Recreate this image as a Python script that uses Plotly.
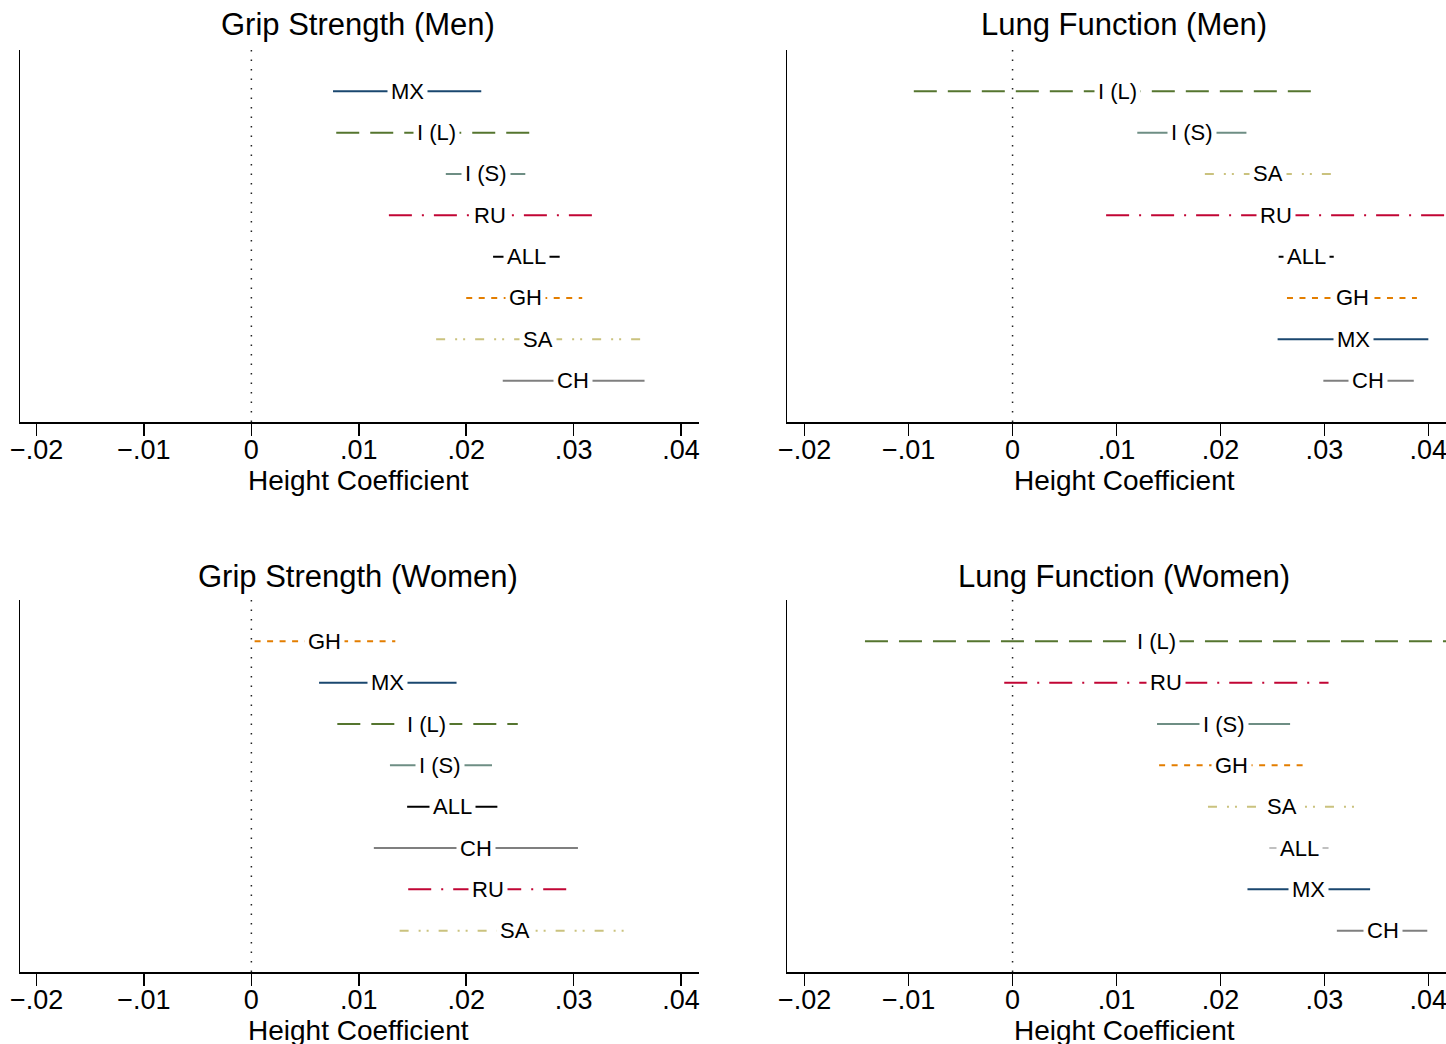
import plotly.graph_objects as go

W, H = 1446, 1044
OX, OY = 0, 0  # body margin removed below, so figure starts at page origin
FONT = "Liberation Sans, Arial, sans-serif"

# ---------------- data ----------------
rows = [1, 2, 3, 4, 5, 6, 7, 8]

tick_vals = [-0.02, -0.01, 0, 0.01, 0.02, 0.03, 0.04]
tick_text = ["\u2212.02", "\u2212.01", "0", ".01", ".02", ".03", ".04"]

# Grip Strength (Men)
gm_labels = ["MX", "I (L)", "I (S)", "RU", "ALL", "GH", "SA", "CH"]
gm_est = [0.0145, 0.0172, 0.0218, 0.0222, 0.0256, 0.0255, 0.0267, 0.0299]
gm_lo = [0.0076, 0.0079, 0.0181, 0.0128, 0.0225, 0.0200, 0.0172, 0.0234]
gm_hi = [0.0214, 0.0262, 0.0255, 0.0317, 0.0287, 0.0308, 0.0363, 0.0366]

# Lung Function (Men)
lm_labels = ["I (L)", "I (S)", "SA", "RU", "ALL", "GH", "MX", "CH"]
lm_est = [0.0101, 0.0173, 0.0246, 0.0253, 0.0283, 0.0327, 0.0328, 0.0342]
lm_lo = [-0.0095, 0.0120, 0.0185, 0.0090, 0.0256, 0.0264, 0.0255, 0.0299]
lm_hi = [0.0294, 0.0225, 0.0307, 0.0418, 0.0309, 0.0389, 0.0400, 0.0386]

# Grip Strength (Women)
gw_labels = ["GH", "MX", "I (L)", "I (S)", "ALL", "CH", "RU", "SA"]
gw_est = [0.0068, 0.0127, 0.0163, 0.0176, 0.0187, 0.0209, 0.0220, 0.0245]
gw_lo = [0.0003, 0.0063, 0.0080, 0.0129, 0.0145, 0.0114, 0.0146, 0.0138]
gw_hi = [0.0134, 0.0191, 0.0248, 0.0224, 0.0229, 0.0304, 0.0295, 0.0352]

# Lung Function (Women)
lw_labels = ["I (L)", "RU", "I (S)", "GH", "SA", "ALL", "MX", "CH"]
lw_est = [0.0138, 0.0148, 0.0203, 0.0211, 0.0259, 0.0276, 0.0285, 0.0356]
lw_lo = [-0.0142, -0.0008, 0.0139, 0.0141, 0.0188, 0.0247, 0.0226, 0.0312]
lw_hi = [0.0418, 0.0304, 0.0267, 0.0280, 0.0330, 0.0304, 0.0344, 0.0399]

# ---------------- styles ----------------
styles = {
    "MX": dict(color="#1a476f", dash="solid"),
    "I (L)": dict(color="#55752f", dash="23px,11px"),
    "I (S)": dict(color="#6e8e84", dash="solid"),
    "RU": dict(color="#c10534", dash="23px,10px,2px,10px"),
    "ALL": dict(color="#000000", dash="solid"),
    "GH": dict(color="#e37e00", dash="6px,6.5px"),
    "SA": dict(color="#cac27e", dash="9px,10px,2px,6px,2px,10px"),
    "CH": dict(color="#7f7f7f", dash="solid"),
}

def px_x(p):
    return (p - OX) / W

def px_y(p):
    return 1 - (p - OY) / H

panels = [
    dict(title="Grip Strength (Men)", labels=gm_labels, est=gm_est, lo=gm_lo, hi=gm_hi,
         xd=[px_x(20), px_x(699)], yd=[px_y(422), px_y(50)], rng=[-0.02154, 0.04167],
         tx=358, ty=25, ax_y=480, override={}),
    dict(title="Lung Function (Men)", labels=lm_labels, est=lm_est, lo=lm_lo, hi=lm_hi,
         xd=[px_x(787), px_x(1446)], yd=[px_y(422), px_y(50)], rng=[-0.0217, 0.0417],
         tx=1124, ty=25, ax_y=480, override={}),
    dict(title="Grip Strength (Women)", labels=gw_labels, est=gw_est, lo=gw_lo, hi=gw_hi,
         xd=[px_x(20), px_x(699)], yd=[px_y(972), px_y(600)], rng=[-0.02154, 0.04167],
         tx=358, ty=576, ax_y=1030, override={}),
    dict(title="Lung Function (Women)", labels=lw_labels, est=lw_est, lo=lw_lo, hi=lw_hi,
         xd=[px_x(787), px_x(1446)], yd=[px_y(972), px_y(600)], rng=[-0.0217, 0.0417],
         tx=1124, ty=576, ax_y=1030, override={"ALL": "#c0c0c0"}),
]

fig = go.Figure()
annotations = []
shapes = []
layout = {}

for i, p in enumerate(panels):
    n = "" if i == 0 else str(i + 1)
    xa, ya = "x" + n, "y" + n
    for lab, e, lo, hi, r in zip(p["labels"], p["est"], p["lo"], p["hi"], rows):
        st = styles[lab]
        col = p["override"].get(lab, st["color"])
        fig.add_trace(go.Scatter(
            x=[lo, hi], y=[r, r], mode="lines", xaxis=xa, yaxis=ya,
            line=dict(color=col, width=2, dash=st["dash"]),
            hoverinfo="skip", showlegend=False))
        annotations.append(dict(
            x=e, y=r, xref=xa, yref=ya, text=lab, showarrow=False,
            bgcolor="white", borderpad=3,
            font=dict(family=FONT, size=22, color="black"),
            xanchor="center", yanchor="middle"))
    shapes.append(dict(type="line", xref=xa, yref=ya, x0=0, x1=0, y0=0, y1=9,
                       line=dict(color="#222222", width=1.5, dash="1.5px,8px"),
                       layer="below"))
    layout["xaxis" + n] = dict(
        domain=p["xd"], range=p["rng"], anchor=ya, automargin=False,
        showline=True, linecolor="black", linewidth=1.5,
        ticks="outside", ticklen=12, tickwidth=1.5, tickcolor="black",
        tickvals=tick_vals, ticktext=tick_text, ticklabeloverflow="allow",
        ticklabelstandoff=-9,
        tickfont=dict(family=FONT, size=27, color="black"),
        showgrid=False, zeroline=False)
    layout["yaxis" + n] = dict(
        domain=p["yd"], range=[9, 0], anchor=xa, automargin=False,
        showline=True, linecolor="black", linewidth=1.5,
        showticklabels=False, ticks="", showgrid=False, zeroline=False)
    annotations.append(dict(
        x=px_x(p["tx"]), y=px_y(p["ty"]), xref="paper", yref="paper",
        text=p["title"], showarrow=False, xanchor="center", yanchor="middle",
        font=dict(family=FONT, size=31, color="black")))
    annotations.append(dict(
        x=px_x(p["tx"]), y=px_y(p["ax_y"]), xref="paper", yref="paper",
        text="Height Coefficient", showarrow=False, xanchor="center", yanchor="middle",
        font=dict(family=FONT, size=28, color="black")))

fig.update_layout(
    width=W, height=H,
    margin=dict(l=0, r=0, t=0, b=0, pad=0, autoexpand=False),
    paper_bgcolor="white", plot_bgcolor="white",
    annotations=annotations, shapes=shapes,
    font=dict(family=FONT, color="black"),
    hovermode=False,
    **layout)

fig.write_html(
    "out.html",
    config={"displayModeBar": False, "staticPlot": True},
    post_script="document.body.style.margin='0px';document.body.style.overflow='hidden';",
)
